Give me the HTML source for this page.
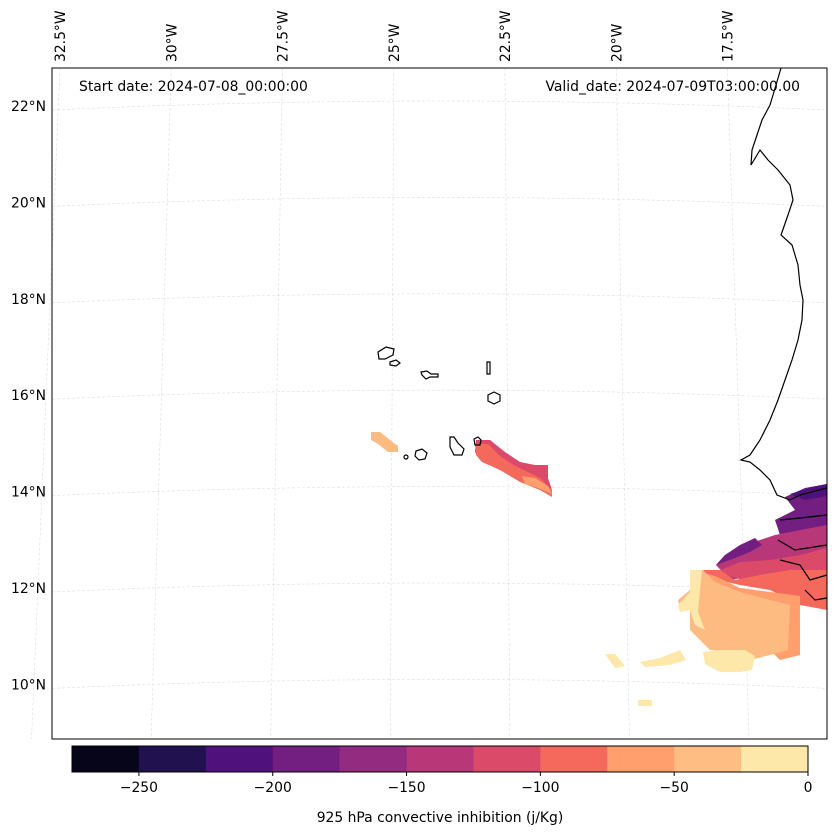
<!DOCTYPE html>
<html><head><meta charset="utf-8"><style>
body{margin:0;background:#fff;font-family:"DejaVu Sans","Liberation Sans",sans-serif;}
svg text{font-family:"DejaVu Sans","Liberation Sans",sans-serif;font-size:13.9px;fill:#000}
</style></head><body>
<svg width="837" height="836" xmlns="http://www.w3.org/2000/svg">
<g id="grid"></g>
<g>
 <polygon fill="#febb81" points="371,432 380,432 390,440 398,446 398,452 388,452 378,444 371,440"/>
 <polygon fill="#dc4a6a" points="476,440 490,440 505,452 520,462 535,465 548,465 548,478 552,490 540,482 520,480 500,470 480,460 475,452"/>
 <polygon fill="#f4695c" points="476,444 488,444 500,456 515,466 528,472 540,478 552,490 552,497 540,490 520,482 500,470 482,462 476,455"/>
 <polygon fill="#fe9f6d" points="522,476 535,478 548,486 552,494 538,488 525,484"/>
 <polygon fill="#721f81" points="785,497 805,488 827,484 827,530 800,540 780,535 775,520 795,510"/>
 <polygon fill="#4f117b" points="790,494 812,487 827,484 827,496 805,500"/>
 <polygon fill="#b73779" points="716,565 725,555 745,545 760,540 775,535 800,530 827,525 827,570 790,575 760,575 730,580"/>
 <polygon fill="#721f81" points="716,565 725,555 740,545 755,538 762,545 750,552 735,558"/>
 <polygon fill="#dc4a6a" points="716,572 740,562 770,560 800,555 827,548 827,590 790,590 760,585"/>
 <polygon fill="#f4695c" points="700,570 720,570 735,580 760,575 790,570 827,570 827,610 800,605 770,590 740,585 710,578"/>
 <polygon fill="#fe9f6d" points="700,572 715,576 740,588 770,592 800,596 800,655 780,660 770,650 750,640 720,630 700,610"/>
 <polygon fill="#febb81" points="690,570 703,570 715,582 740,592 770,600 790,605 788,650 770,655 750,660 745,652 710,650 700,640 690,630 690,600 680,610 678,600 690,590"/>
 <polygon fill="#fde7a9" points="690,570 702,570 700,590 698,612 705,630 695,625 690,610 680,612 678,605 690,592"/>
 <polygon fill="#fde7a9" points="703,652 720,650 745,650 755,656 752,670 740,672 720,672 705,664"/>
 <polygon fill="#fde7a9" points="605,654 615,654 625,666 615,668"/>
 <polygon fill="#fde7a9" points="640,662 660,658 680,650 686,660 670,665 645,667"/>
 <polygon fill="#fde7a9" points="638,700 652,700 652,706 638,706"/>
</g>
<g fill="none" stroke="#000" stroke-width="1.2">
 <polyline points="781,68 776,85 770,105 762,120 757,135 752,150 751,165 760,150 768,160 778,170 790,185 793,200 788,215 781,235 792,245 798,265 800,285 803,300 802,320 798,340 792,360 785,380 778,400 770,420 760,440 750,455 741,460 750,462 760,470 770,480 777,495 790,500 800,495 827,488"/>
 <polyline points="780,520 800,518 827,515"/>
 <polyline points="778,540 795,550 827,545"/>
 <polyline points="780,560 800,565 810,580 827,575"/>
 <polyline points="805,590 815,600 827,598"/>
 <path d="M378,352 l8,-5 8,2 -1,6 -8,4 -6,0z"/>
 <path d="M390,362 l6,-2 4,3 -4,3 -6,-1z"/>
 <path d="M421,372 l6,-1 4,3 7,0 0,3 -8,0 -4,2 -4,-4z"/>
 <path d="M487,362 l3,0 0,12 -3,0z"/>
 <path d="M488,395 l6,-3 6,3 0,6 -6,3 -6,-3z"/>
 <path d="M474,439 l4,-2 3,3 -1,5 -5,0z"/>
 <path d="M450,437 l4,0 4,6 6,6 -2,6 -8,0 -4,-8z"/>
 <path d="M416,451 l6,-2 5,4 -2,6 -6,1 -4,-4z"/>
 <circle cx="406" cy="457" r="2"/>
</g>
<rect x="52" y="68" width="775" height="671" fill="none" stroke="#000" stroke-width="1"/>
<text x="79" y="91">Start date: 2024-07-08_00:00:00</text>
<text x="800" y="91" text-anchor="end">Valid_date: 2024-07-09T03:00:00.00</text>
<g id="latlabels"></g>
<g id="lonlabels"></g>
<g id="cbar"></g>
<text x="440" y="822" text-anchor="middle">925 hPa convective inhibition (j/Kg)</text>
</svg>
<script>
const latTicks=[22,20,18,16,14,12,10];
const lonTicks=[32.5,30,27.5,25,22.5,20,17.5];
const cbarBounds=[-275,-250,-225,-200,-175,-150,-125,-100,-75,-50,-25,0];
const cbarColors=["#06051a","#21114e","#4f117b","#721f81","#932b80","#b73779","#dc4a6a","#f4695c","#fe9f6d","#febd83","#fde7a9"];
const cbarTicks=[-250,-200,-150,-100,-50,0];
const NS="http://www.w3.org/2000/svg";
function latY(v){return 106+(22-v)*48.2;}
function lonX(v){return 60+(32.5-v)*44.5;}
function cbX(v){return 72+(v+275)/275*736;}
function mk(t,a,p){const e=document.createElementNS(NS,t);for(const k in a)e.setAttribute(k,a[k]);p.appendChild(e);return e;}
const grid=document.getElementById('grid'),ll=document.getElementById('latlabels'),lo=document.getElementById('lonlabels'),cb=document.getElementById('cbar');
latTicks.forEach(v=>{const y=latY(v);
 const l=mk('path',{d:`M52,${y+4} Q440,${y-14} 827,${y+4}`,stroke:'#ddd','stroke-dasharray':'3,2','stroke-width':0.6,fill:'none'},grid);
 
 
 const t=mk('text',{x:46,y:y+5,'text-anchor':'end'},ll);t.textContent=v+'°N';
 
 });
lonTicks.forEach(v=>{const x=lonX(v);
 const l=mk('line',{x1:x,y1:68,x2:x+(x-440)*0.075,y2:739,stroke:'#ddd','stroke-dasharray':'3,2','stroke-width':0.6},grid);
 
 
 const t=mk('text',{x:0,y:0,transform:`translate(${x+5},62) rotate(-90)`},lo);t.textContent=v+'°W';
 
 });
cbarColors.forEach((c,i)=>{const x0=cbX(cbarBounds[i]),x1=cbX(cbarBounds[i+1]);
 const r=mk('rect',{x:x0,y:746,width:x1-x0+0.5,height:26,fill:c},cb);
 
 });
mk('rect',{x:72,y:746,width:736,height:26,fill:'none',stroke:'#000','stroke-width':1},cb);
cbarTicks.forEach(v=>{const x=cbX(v);
 mk('line',{x1:x,y1:772,x2:x,y2:776,stroke:'#000'},cb);
 const t=mk('text',{x:x,y:792,'text-anchor':'middle'},cb);t.textContent=(v<0?'−'+(-v):v);
 
 });
</script>
</body></html>
